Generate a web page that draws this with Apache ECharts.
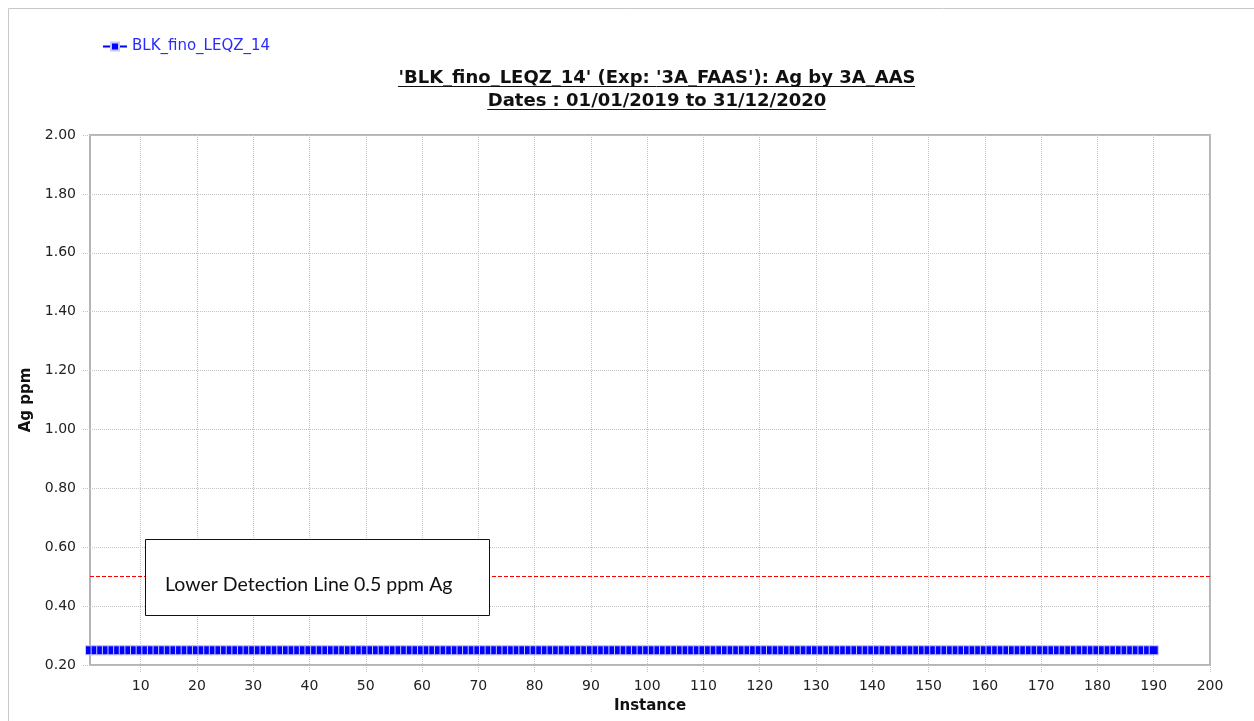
<!DOCTYPE html>
<html>
<head>
<meta charset="utf-8">
<script src="https://cdn.jsdelivr.net/npm/echarts@6/dist/echarts.min.js"></script>
<style>
html,body{margin:0;padding:0;background:#fff;}
#chart{width:1254px;height:721px;}
</style>
</head>
<body>
<div id="chart"></div>
<script>
// ---- data ----
const seriesName = 'BLK_fino_LEQZ_14';
const titleLine1 = "'BLK_fino_LEQZ_14' (Exp: '3A_FAAS'): Ag by 3A_AAS";
const titleLine2 = 'Dates : 01/01/2019 to 31/12/2020';
const yAxisName = 'Ag ppm';
const xAxisName = 'Instance';
const xTickValues = [10,20,30,40,50,60,70,80,90,100,110,120,130,140,150,160,170,180,190,200];
const detectionLimit = 0.5;
const detectionLabel = 'Lower Detection Line 0.5 ppm Ag';
const agValues = [
  0.25,0.25,0.25,0.25,0.25,0.25,0.25,0.25,0.25,0.25,
  0.25,0.25,0.25,0.25,0.25,0.25,0.25,0.25,0.25,0.25,
  0.25,0.25,0.25,0.25,0.25,0.25,0.25,0.25,0.25,0.25,
  0.25,0.25,0.25,0.25,0.25,0.25,0.25,0.25,0.25,0.25,
  0.25,0.25,0.25,0.25,0.25,0.25,0.25,0.25,0.25,0.25,
  0.25,0.25,0.25,0.25,0.25,0.25,0.25,0.25,0.25,0.25,
  0.25,0.25,0.25,0.25,0.25,0.25,0.25,0.25,0.25,0.25,
  0.25,0.25,0.25,0.25,0.25,0.25,0.25,0.25,0.25,0.25,
  0.25,0.25,0.25,0.25,0.25,0.25,0.25,0.25,0.25,0.25,
  0.25,0.25,0.25,0.25,0.25,0.25,0.25,0.25,0.25,0.25,
  0.25,0.25,0.25,0.25,0.25,0.25,0.25,0.25,0.25,0.25,
  0.25,0.25,0.25,0.25,0.25,0.25,0.25,0.25,0.25,0.25,
  0.25,0.25,0.25,0.25,0.25,0.25,0.25,0.25,0.25,0.25,
  0.25,0.25,0.25,0.25,0.25,0.25,0.25,0.25,0.25,0.25,
  0.25,0.25,0.25,0.25,0.25,0.25,0.25,0.25,0.25,0.25,
  0.25,0.25,0.25,0.25,0.25,0.25,0.25,0.25,0.25,0.25,
  0.25,0.25,0.25,0.25,0.25,0.25,0.25,0.25,0.25,0.25,
  0.25,0.25,0.25,0.25,0.25,0.25,0.25,0.25,0.25,0.25,
  0.25,0.25,0.25,0.25,0.25,0.25,0.25,0.25,0.25,0.25
];

const points = agValues.map((v, i) => [i + 1, v]);

const labelFont = 'DejaVu Sans';
const gridColor = '#c4c4c4';
const titleFont = 'bold 18px "DejaVu Sans"';

// measure title widths for the underline decoration
const mctx = document.createElement('canvas').getContext('2d');
mctx.font = titleFont;
const w1 = mctx.measureText(titleLine1).width;
const w2 = mctx.measureText(titleLine2).width;
const titleCx = 652;
const underlineCx = titleCx + 4.5;

const chart = echarts.init(document.getElementById('chart'), null, {renderer: 'canvas'});
chart.setOption({
  animation: false,
  backgroundColor: '#ffffff',
  title: [
    {
      text: titleLine1 + '\n' + titleLine2,
      left: titleCx, top: 62, textAlign: 'center',
      textStyle: {fontFamily: labelFont, fontWeight: 'bold', fontSize: 18, color: '#111', lineHeight: 23}
    }
  ],
  legend: {
    left: 97, top: 34,
    itemWidth: 24, itemHeight: 10, itemGap: 4,
    data: [seriesName],
    textStyle: {color: '#2a2aff', fontFamily: labelFont, fontSize: 15}
  },
  grid: {
    left: 90, right: 44, top: 135, bottom: 56,
    show: true, borderColor: '#b4b4b4', borderWidth: 2, backgroundColor: 'transparent'
  },
  xAxis: {
    type: 'value', min: 1, max: 200,
    name: xAxisName, nameLocation: 'middle', nameGap: 34,
    nameTextStyle: {fontFamily: labelFont, fontWeight: 'bold', fontSize: 15, color: '#111'},
    axisLine: {show: false},
    axisTick: {show: true, length: 7, customValues: xTickValues, lineStyle: {color: gridColor, type: 'dotted'}},
    axisLabel: {customValues: xTickValues, margin: 14, fontFamily: labelFont, fontSize: 14, color: '#222'},
    splitLine: {show: true, lineStyle: {color: gridColor, type: 'dotted', width: 1}}
  },
  yAxis: {
    type: 'value', min: 0.2, max: 2.0, interval: 0.2,
    name: yAxisName, nameLocation: 'middle', nameGap: 53, nameRotate: 90,
    nameTextStyle: {fontFamily: labelFont, fontWeight: 'bold', fontSize: 15, color: '#111'},
    axisLine: {show: false},
    axisTick: {show: true, length: 7, lineStyle: {color: gridColor, type: 'dotted'}},
    axisLabel: {margin: 14, fontFamily: labelFont, fontSize: 14, color: '#222', formatter: v => v.toFixed(2)},
    splitLine: {show: true, lineStyle: {color: gridColor, type: 'dotted', width: 1}}
  },
  series: [
    {
      name: seriesName,
      type: 'line',
      data: points,
      clip: false,
      symbol: 'rect',
      symbolSize: 9,
      showAllSymbol: true,
      lineStyle: {color: '#0000ff', width: 1},
      itemStyle: {color: '#0000ff', borderColor: '#c8c8ff', borderWidth: 1},
      z: 3,
      markLine: {
        silent: true,
        symbol: 'none',
        label: {show: false},
        lineStyle: {color: '#ff0000', type: 'dashed', width: 1},
        data: [{yAxis: detectionLimit}],
        z: 2
      }
    }
  ],
  graphic: [
    {
      type: 'rect', silent: true, z: -1,
      shape: {x: 8.5, y: 8.5, width: 1400, height: 900},
      style: {fill: 'none', stroke: '#c8c8c8', lineWidth: 1}
    },
    {
      type: 'line', silent: true,
      shape: {x1: underlineCx - w1 / 2, y1: 86.5, x2: underlineCx + w1 / 2, y2: 86.5},
      style: {stroke: '#111', lineWidth: 1}
    },
    {
      type: 'line', silent: true,
      shape: {x1: underlineCx - w2 / 2, y1: 109.5, x2: underlineCx + w2 / 2, y2: 109.5},
      style: {stroke: '#111', lineWidth: 1}
    },
    {
      type: 'group', z: 10,
      children: [
        {
          type: 'rect', silent: true, z: 10,
          shape: {x: 145.5, y: 539.5, width: 344, height: 76},
          style: {fill: '#ffffff', stroke: '#111', lineWidth: 1}
        },
        {
          type: 'text', silent: true, z: 11,
          x: 165, y: 585,
          style: {text: detectionLabel, fill: '#111', font: '19.5px Lato', verticalAlign: 'middle', align: 'left'}
        }
      ]
    }
  ]
});
</script>
</body>
</html>
